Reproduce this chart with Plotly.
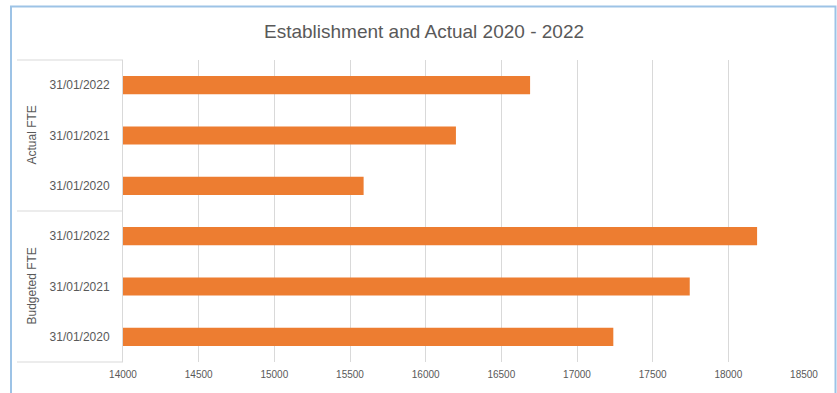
import plotly.graph_objects as go

# Data (bottom to top, as drawn)
groups = ["Budgeted FTE", "Budgeted FTE", "Budgeted FTE", "Actual FTE", "Actual FTE", "Actual FTE"]
dates = ["31/01/2020", "31/01/2021", "31/01/2022", "31/01/2020", "31/01/2021", "31/01/2022"]
values = [17240, 17745, 18190, 15590, 16200, 16690]
group_names = ["Budgeted FTE", "Actual FTE"]
x_ticks = [14000, 14500, 15000, 15500, 16000, 16500, 17000, 17500, 18000, 18500]

positions = list(range(len(values)))

W, H = 837, 393
L, R, T, B = 123, 33, 60, 31
pw, ph = W - L - R, H - T - B

def px_x(p):
    return (p - L) / pw

def px_y(p):
    return (H - B - p) / ph

fig = go.Figure(go.Bar(
    x=values, y=positions, orientation="h",
    marker=dict(color="#ED7D31", line=dict(width=0)),
    width=0.36,
))

grey = "#d9d9d9"
txt = "#595959"
fam = "Liberation Sans Narrow, Arial Narrow, Liberation Sans"

fig.update_layout(
    width=W, height=H,
    margin=dict(l=L, r=R, t=T, b=B, autoexpand=False),
    paper_bgcolor="white", plot_bgcolor="white",
    showlegend=False,
    title=dict(text="Establishment and Actual 2020 - 2022",
               xref="container", x=424 / W, xanchor="center",
               yref="container", y=1 - 31 / H, yanchor="middle",
               font=dict(family=fam, size=19, color=txt)),
    font=dict(family=fam, color=txt),
)

fig.update_xaxes(
    range=[x_ticks[0], x_ticks[-1]],
    tickvals=x_ticks, ticktext=[str(v) for v in x_ticks],
    showgrid=True, gridcolor=grey, gridwidth=1,
    zeroline=False, showline=False, ticks="",
    tickfont=dict(size=10, color=txt),
    ticklabelstandoff=5, automargin=False,
)
fig.update_yaxes(
    range=[-0.5, len(values) - 0.5],
    tickvals=positions, ticktext=dates,
    showgrid=False, zeroline=False,
    showline=True, linecolor=grey, linewidth=1,
    ticks="", tickfont=dict(size=12, color=txt),
    ticklabelstandoff=10, automargin=False,
)

shapes = []
# outer chart frame
shapes.append(dict(type="rect", xref="paper", yref="paper",
                   x0=px_x(11), x1=px_x(835.5), y0=px_y(H + 40), y1=px_y(6.5),
                   line=dict(color="#9dc3e6", width=2), fillcolor="rgba(0,0,0,0)", layer="below"))
# category box lines
for k in range(len(group_names) + 1):
    yv = k / len(group_names)
    shapes.append(dict(type="line", xref="paper", yref="paper",
                       x0=px_x(17), x1=0, y0=yv, y1=yv,
                       line=dict(color=grey, width=1)))
fig.update_layout(shapes=shapes)

annotations = []
for k, g in enumerate(group_names):
    annotations.append(dict(text=g, xref="paper", yref="paper",
                            x=px_x(31), y=(k + 0.5) / len(group_names),
                            textangle=-90, showarrow=False,
                            xanchor="center", yanchor="middle",
                            font=dict(size=12, color=txt)))
fig.update_layout(annotations=annotations)

fig.write_html("out.html",
               config={"displayModeBar": False},
               post_script="document.body.style.margin='0';document.body.style.overflow='hidden';")
